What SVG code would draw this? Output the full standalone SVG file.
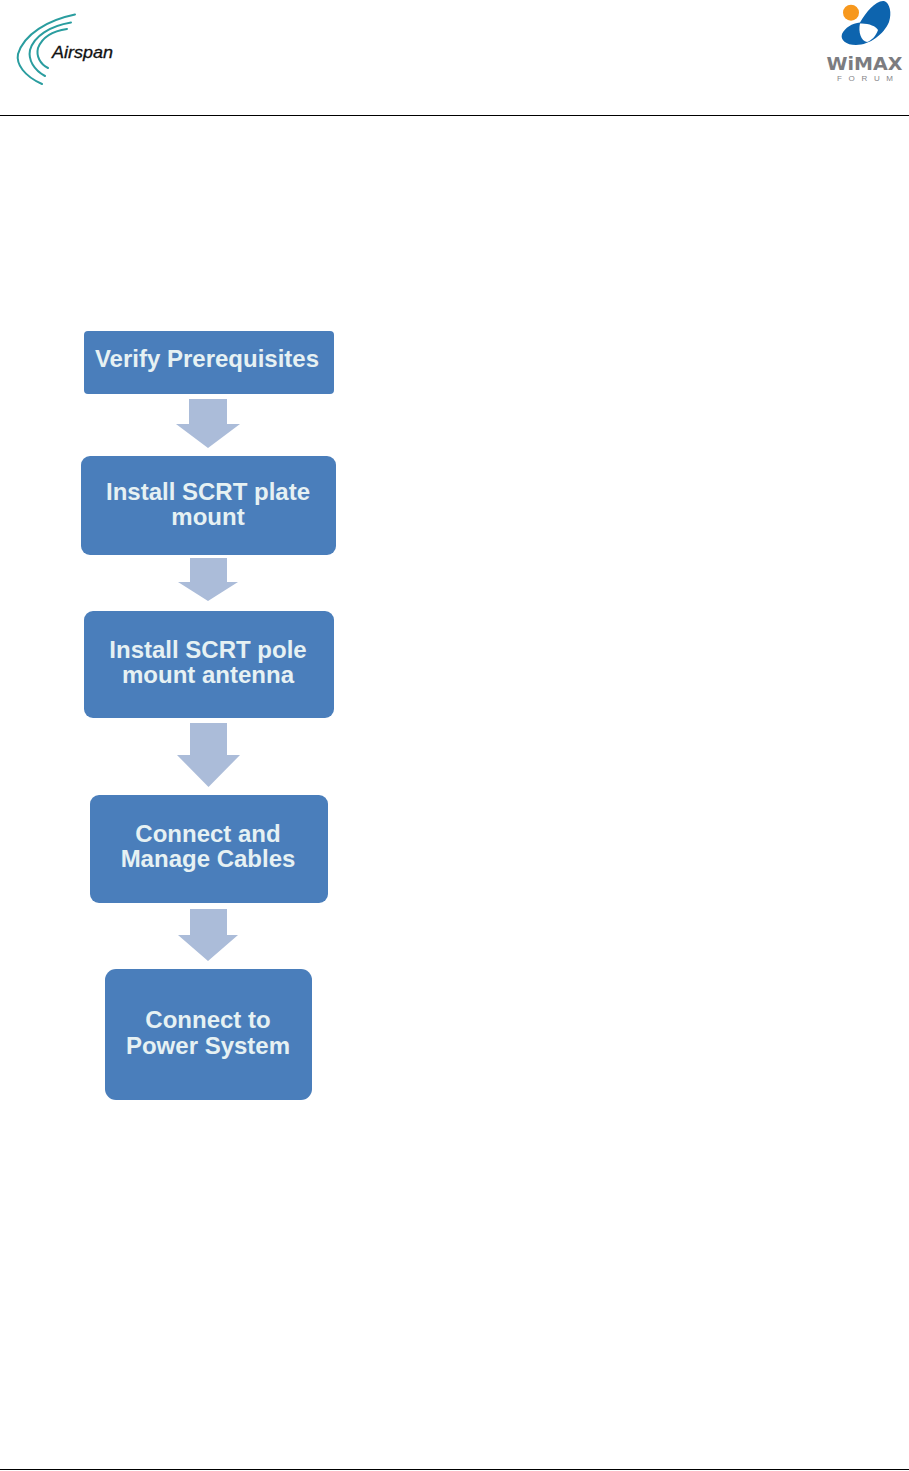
<svg xmlns="http://www.w3.org/2000/svg" width="909" height="1471" viewBox="0 0 909 1471">
<style>
.box{fill:#4a7ebb}
.arrow{fill:#abbcd9}
.label{font-family:"Liberation Sans",Arial,sans-serif;font-weight:700;font-size:24px;fill:#e6f1f3;text-anchor:middle}
.rule{stroke:#000;stroke-width:1;fill:none}
.arc{fill:none;stroke:#2a9d9f;stroke-linecap:round;stroke-width:2}
</style>
<rect width="909" height="1471" fill="#fff"/>
<g id="header">
<line class="rule" x1="0" y1="115.5" x2="909" y2="115.5"/>
<line class="rule" x1="0" y1="1469.5" x2="909" y2="1469.5"/>
</g>
<g id="airspan-logo">
<path class="arc" d="M75 14.500C48 20 24 34 18 54C16 64 24 76 42 84"/>
<path class="arc" d="M71 22.500C50 26 34 36 30 50C28 60 34 70 45 76"/>
<path class="arc" d="M67 29C52 31 42 38 38 48C36 56 40 64 48 68"/>
<text x="52" y="58" font-family="'Liberation Sans',Arial,sans-serif" font-style="italic" font-size="16.500" fill="#111" stroke="#111" stroke-width="0.3" textLength="61" lengthAdjust="spacingAndGlyphs">Airspan</text>
</g>
<g id="wimax-logo">
<circle cx="851" cy="12.700" r="8" fill="#f7981d"/>
<path d="M884 1C890 3 892 13 889 22C884 34 870 45 856 45C846 45 840 40 842 34C845 28 852 23 860 22.500C866 12 876 0 884 1Z" fill="#0d64ae"/>
<path d="M860 23.500C868 23 876 26 878 30C876 36 871 41 867 42C861 41 858 32 860 23.500Z" fill="#fff"/>
<text x="864.500" y="70" font-family="'DejaVu Sans',sans-serif" font-weight="700" font-size="17" fill="#7c7c80" text-anchor="middle" textLength="76" lengthAdjust="spacingAndGlyphs">WiMAX</text>
<text x="865" y="81" font-family="'Liberation Sans',Arial,sans-serif" font-size="8" fill="#86868a" text-anchor="middle" textLength="56" lengthAdjust="spacing">FORUM</text>
</g>
<g id="connectors">
<polygon class="arrow" points="189,399 227,399 227,424 240,424 208,448 176,424 189,424"/>
<polygon class="arrow" points="190,558 227,558 227,582 238,582 208,601 178,582 190,582"/>
<polygon class="arrow" points="190,723 227,723 227,755 240,755 208.500,787 177,755 190,755"/>
<polygon class="arrow" points="190,909 227,909 227,935 238,935 208,961 178,935 190,935"/>
</g>
<g id="node-verify">
<rect class="box" x="84" y="331" width="250" height="63" rx="4"/>
<text class="label" x="207" y="367">Verify Prerequisites</text>
</g>
<g id="node-plate">
<rect class="box" x="81" y="456" width="255" height="99" rx="9"/>
<text class="label" x="208" y="500">Install SCRT plate</text>
<text class="label" x="208" y="525">mount</text>
</g>
<g id="node-pole">
<rect class="box" x="84" y="611" width="250" height="107" rx="9"/>
<text class="label" x="208" y="658">Install SCRT pole</text>
<text class="label" x="208" y="683">mount antenna</text>
</g>
<g id="node-cables">
<rect class="box" x="90" y="795" width="238" height="108" rx="9"/>
<text class="label" x="208" y="842">Connect and</text>
<text class="label" x="208" y="867">Manage Cables</text>
</g>
<g id="node-power">
<rect class="box" x="105" y="969" width="207" height="131" rx="11"/>
<text class="label" x="208" y="1028">Connect to</text>
<text class="label" x="208" y="1054">Power System</text>
</g>
</svg>
